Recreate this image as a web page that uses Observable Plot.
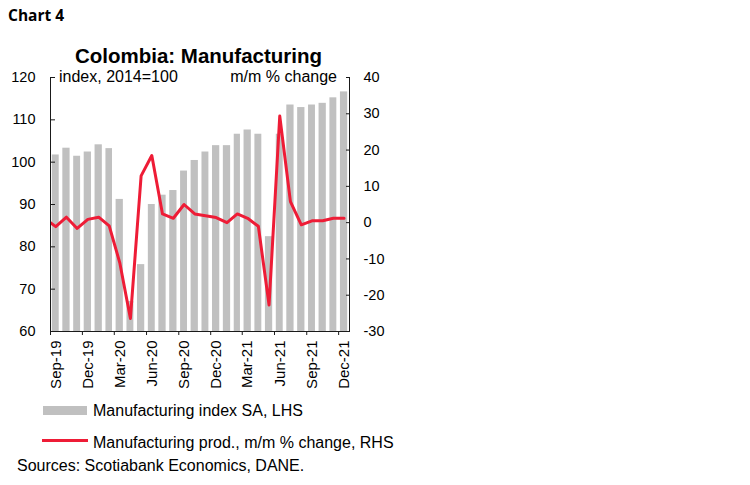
<!DOCTYPE html>
<html><head><meta charset="utf-8">
<script src="https://cdn.jsdelivr.net/npm/d3@7"></script>
<script src="https://cdn.jsdelivr.net/npm/@observablehq/plot@0.6"></script>
<style>
body{margin:0;background:#fff;font-family:"Liberation Sans",Arial,sans-serif;}
#wrap{position:relative;width:750px;height:485px;overflow:hidden;background:#fff}
#chart{position:absolute;left:0;top:0}
.abs{position:absolute;white-space:nowrap;color:#000;line-height:1}
</style></head><body>
<div id="wrap">
<div id="chart"></div>
<div class="abs" style="left:8px;top:8px;font-family:'Open Sans',sans-serif;font-weight:700;font-size:15.5px;">Chart 4</div>
<div class="abs" style="left:0;width:397px;text-align:center;top:46px;font-weight:700;font-size:20.5px;">Colombia: Manufacturing</div>
<div class="abs" style="left:59px;top:69px;font-size:16px;">index, 2014=100</div>
<div class="abs" style="right:413px;top:69px;font-size:16px;">m/m % change</div>
<div class="abs" style="left:43px;top:406px;width:44px;height:9px;background:#c0c0c0;"></div>
<div class="abs" style="left:93px;top:403px;font-size:16px;">Manufacturing index SA, LHS</div>
<div class="abs" style="left:42px;top:439px;width:46px;height:3px;background:#ee1c36;"></div>
<div class="abs" style="left:93px;top:435px;font-size:16px;">Manufacturing prod., m/m % change, RHS</div>
<div class="abs" style="left:17px;top:458px;font-size:16px;">Sources: Scotiabank Economics, DANE.</div>
</div>
<script>
// ---- data ----
const months = ["2019-09","2019-10","2019-11","2019-12","2020-01","2020-02","2020-03","2020-04","2020-05","2020-06","2020-07","2020-08","2020-09","2020-10","2020-11","2020-12","2021-01","2021-02","2021-03","2021-04","2021-05","2021-06","2021-07","2021-08","2021-09","2021-10","2021-11","2021-12"];
const indexSA = [101.7,103.3,101.4,102.4,104.1,103.2,91.2,67.1,75.8,90.0,92.2,93.3,97.9,100.4,102.4,103.9,103.9,106.6,107.6,106.6,82.4,106.6,113.5,112.9,113.5,113.9,115.2,116.6];
// line series starts one month earlier (its first segment is clipped by the axis)
const lineMonths = ["2019-08"].concat(months);
const mmChange = [1.1,-1.1,1.5,-1.6,0.9,1.5,-0.9,-11.0,-26.4,12.9,18.5,2.4,1.2,5.0,2.4,1.9,1.4,0.0,2.4,1.2,-1.0,-22.7,29.4,5.8,-0.6,0.5,0.5,1.2,1.2];
const tickLabels = ["2019-09","2019-12","2020-03","2020-06","2020-09","2020-12","2021-03","2021-06","2021-09","2021-12"];
const leftTicks = [60,70,80,90,100,110,120];
const rightTicks = [-30,-20,-10,0,10,20,30,40];
const leftDomain = [60,120];
const rightDomain = [-30,40];

// ---- helpers ----
const parse = d3.utcParse("%Y-%m");
const mid = d => new Date((+d + +d3.utcMonth.offset(d, 1)) / 2);
const toLeft = v => leftDomain[0] + (v - rightDomain[0]) * (leftDomain[1]-leftDomain[0]) / (rightDomain[1]-rightDomain[0]);
const fromLeft = v => rightDomain[0] + (v - leftDomain[0]) * (rightDomain[1]-rightDomain[0]) / (leftDomain[1]-leftDomain[0]);

const bars = months.map((m,i) => ({date: parse(m), value: indexSA[i]}));
const line = lineMonths.map((m,i) => ({date: mid(parse(m)), value: toLeft(mmChange[i])}));
const xDomain = [parse(months[0]), d3.utcMonth.offset(parse(months[months.length-1]), 1)];
const tickDates = tickLabels.map(parse);

const RED = "#ee1c36", GREY = "#c0c0c0", AX = "#1a1a1a";
const fmt = d3.utcFormat("%b-%y");

const chart = Plot.plot({
  width: 750, height: 485,
  marginLeft: 50, marginRight: 401, marginTop: 77, marginBottom: 154,
  style: {fontFamily: "'Liberation Sans', Arial, sans-serif", background: "transparent", color: "#000"},
  x: {type: "utc", domain: xDomain, label: null},
  y: {domain: leftDomain, label: null},
  marks: [
    Plot.rectY(bars, {x: "date", y: "value", interval: d3.utcMonth, fill: GREY, insetLeft: 1.8, insetRight: 1.8, clip: true}),
    Plot.lineY(line, {x: "date", y: "value", stroke: RED, strokeWidth: 3, clip: true}),
    // axis lines
    Plot.ruleX(xDomain, {stroke: AX, strokeWidth: 1}),
    Plot.ruleY([leftDomain[0]], {stroke: AX, strokeWidth: 1}),
    // left axis: inward ticks + labels
    Plot.axisY({anchor: "left", ticks: leftTicks, tickSize: 5, dx: 5, tickFormat: () => "", stroke: AX, label: null}),
    Plot.axisY({anchor: "left", ticks: leftTicks, tickSize: 0, tickPadding: 15, fontSize: 14.5, label: null}),
    // right axis (RHS values mapped onto the left scale)
    Plot.axisY({anchor: "right", ticks: rightTicks.map(toLeft), tickSize: 4, dx: -4, tickFormat: () => "", stroke: AX, label: null}),
    Plot.axisY({anchor: "right", ticks: rightTicks.map(toLeft), tickSize: 0, tickPadding: 14, fontSize: 14.5, tickFormat: d => String(Math.round(fromLeft(d))), label: null}),
    // x axis: ticks at quarter boundaries, labels at month centres
    Plot.axisX({ticks: tickDates, tickSize: 4, tickFormat: () => "", stroke: AX, label: null}),
    Plot.axisX({ticks: tickDates.map(mid), tickSize: 0, tickRotate: -90, tickPadding: 9, fontSize: 15, tickFormat: fmt, label: null})
  ]
});
document.getElementById("chart").appendChild(chart);
</script>
</body></html>
